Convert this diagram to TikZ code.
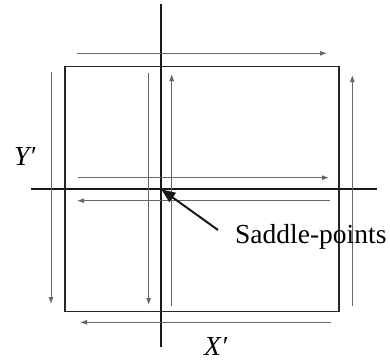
\documentclass[tikz,border=0pt]{standalone}
\usepackage{fontspec}
\setmainfont{Liberation Serif}
\usetikzlibrary{arrows.meta}

\tikzset{
  axis/.style={line width=2.2pt, black!90},
  box/.style={line width=1.3pt, black!85},
  flow/.style={line width=0.9pt, black!60, -{Latex[length=7pt,width=5pt]}},
  pointer/.style={line width=2pt, black!90, -{Triangle[length=14pt,width=11pt]}},
  lbl/.style={inner sep=0pt, anchor=base west, font=\fontsize{27.5}{30}\selectfont}
}

\begin{document}
\begin{tikzpicture}[x=1pt,y=-1pt]
\useasboundingbox (0,0) rectangle (390,362);

% axes through the saddle point
\coordinate (saddle) at (161.3,189.3);
\draw[axis] (161.3,4) -- (161.3,347);
\draw[axis] (31,189.3) -- (377,189.3);

% the box
\draw[box] (65,66.3) rectangle (339,311.7);

% flow lines, horizontal
\draw[flow] (76.7,53.3) -- (327,53.3);
\draw[flow] (78,177.7) -- (329,177.7);
\draw[flow] (330,200.7) -- (77,200.7);
\draw[flow] (331,322.3) -- (80,322.3);

% flow lines, vertical
\draw[flow] (51,71.7) -- (51,304);
\draw[flow] (148.7,73) -- (148.7,305);
\draw[flow] (171.7,306) -- (171.7,74);
\draw[flow] (352.3,306) -- (352.3,75);

% labels
\node[lbl] (yp) at (14,165) {\itshape Y′};
\node[lbl] (xp) at (204,355) {\itshape X′};
\node[lbl] (sp) at (235,243) {Saddle-points};
\coordinate (tail) at (218,230);
\draw[pointer] (tail) -- (saddle);
\end{tikzpicture}
\end{document}
